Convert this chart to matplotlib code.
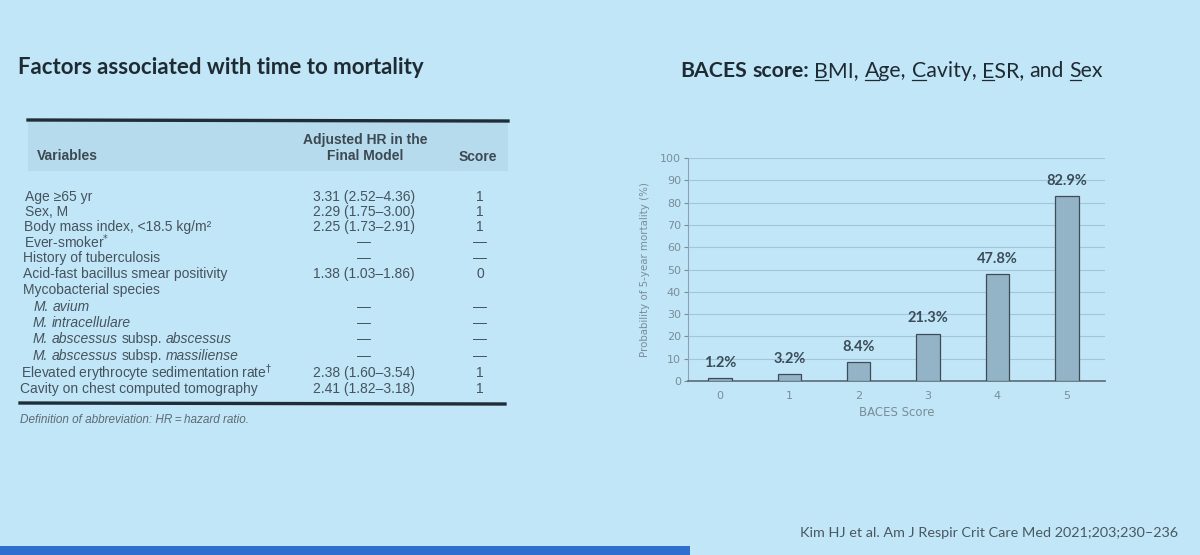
import matplotlib
matplotlib.use("Agg")
import matplotlib.pyplot as plt
from matplotlib.patches import Rectangle
from matplotlib.lines import Line2D

# ---- data ----
variables = [
    "Age \u226565 yr",
    "Sex, M",
    "Body mass index, <18.5 kg/m\u00b2",
    "Ever-smoker$^{*}$",
    "History of tuberculosis",
    "Acid-fast bacillus smear positivity",
    "Mycobacterial species",
    "M. avium",
    "M. intracellulare",
    "M. abscessus subsp. abscessus",
    "M. abscessus subsp. massiliense",
    "Elevated erythrocyte sedimentation rate$^{\\dagger}$",
    "Cavity on chest computed tomography",
]
hr_values = [
    "3.31 (2.52\u20134.36)", "2.29 (1.75\u20133.00)", "2.25 (1.73\u20132.91)",
    "\u2014", "\u2014", "1.38 (1.03\u20131.86)", "",
    "\u2014", "\u2014", "\u2014", "\u2014",
    "2.38 (1.60\u20133.54)", "2.41 (1.82\u20133.18)",
]
row_scores = ["1", "1", "1", "\u2014", "\u2014", "0", "",
              "\u2014", "\u2014", "\u2014", "\u2014", "1", "1"]

baces_score = [0, 1, 2, 3, 4, 5]
mortality = [1.2, 3.2, 8.4, 21.3, 47.8, 82.9]

BG = "#c1e6f8"
W, H = 1200, 555

fig = plt.figure(figsize=(12, 5.55), dpi=100)
fig.patch.set_facecolor(BG)
renderer = fig.canvas.get_renderer()


def fx(px):
    return px / W


def fy(py):
    return 1 - py / H


def width_of(s, **kw):
    t = fig.text(0, 0, s, **kw)
    w = t.get_window_extent(renderer=renderer).width
    t.remove()
    return w


def draw_runs(x, y, runs, color, **kw):
    # runs: (text, weight, style, underline first letter)
    space = width_of("x x", **kw) - width_of("xx", **kw)
    cur = x
    for i, (s, weight, style, ul) in enumerate(runs):
        if i > 0:
            cur += space
        t = fig.text(fx(cur), fy(y), s, color=color, weight=weight,
                     style=style, va="baseline", **kw)
        w = t.get_window_extent(renderer=renderer).width
        if ul:
            fw = width_of(s[0], weight=weight, style=style, **kw)
            fig.add_artist(Line2D([fx(cur), fx(cur + fw)], [fy(y + 3)] * 2,
                                  lw=0.9, color=color))
        cur += w


# ---- titles ----
TITLE = "#1f2b33"
fig.text(fx(18), fy(74), "Factors associated with time to mortality",
         fontsize=16, weight="bold", family="Lato", color=TITLE, va="baseline")

title_runs = [("BACES", "bold", "normal", False), ("score:", "bold", "normal", False),
              ("BMI,", "normal", "normal", True), ("Age,", "normal", "normal", True),
              ("Cavity,", "normal", "normal", True), ("ESR,", "normal", "normal", True),
              ("and", "normal", "normal", False), ("Sex", "normal", "normal", True)]
draw_runs(680, 77, title_runs, TITLE, fontsize=15.3, family="Lato")

# ---- table ----
TXT = "#46535c"
TF = "Liberation Sans"
FS = 10
fig.add_artist(Rectangle((fx(28), fy(171)), fx(508) - fx(28), fy(122) - fy(171),
                         color="#b6dbec", lw=0))
fig.add_artist(Line2D([fx(28), fx(508)], [fy(120), fy(121)], lw=2.4, color="#1e2d37"))
fig.add_artist(Line2D([fx(20), fx(505)], [fy(403), fy(404)], lw=2.4, color="#1e2d37"))

fig.text(fx(37), fy(156), "Variables", fontsize=FS, weight="bold", family=TF,
         color="#3c4952", va="center")
fig.text(fx(365), fy(148), "Adjusted HR in the\nFinal Model", fontsize=FS,
         weight="bold", family=TF, color="#3c4952", va="center", ha="center",
         linespacing=1.1)
fig.text(fx(478), fy(157), "Score", fontsize=FS, weight="bold", family=TF,
         color="#3c4952", va="center", ha="center")

row_y = [197, 212, 227, 242, 258, 274, 290, 307, 323, 339, 356, 373, 389]
for i, (var, hr, sc) in enumerate(zip(variables, hr_values, row_scores)):
    y = row_y[i]
    x0 = 25 - 5 * i / len(variables)
    if var.startswith("M. "):
        runs = [(w, "normal", "normal" if w == "subsp." else "italic", False)
                for w in var.split(" ")]
        draw_runs(x0 + 11, y + 4, runs, TXT, fontsize=FS, family=TF)
    else:
        fig.text(fx(x0), fy(y), var, fontsize=FS, family=TF, color=TXT, va="center")
    fig.text(fx(364), fy(y), hr, fontsize=FS, family=TF, color=TXT,
             va="center", ha="center")
    fig.text(fx(480), fy(y), sc, fontsize=FS, family=TF, color=TXT,
             va="center", ha="center")

fig.text(fx(20), fy(420), "Definition of abbreviation: HR\u2009=\u2009hazard ratio.",
         fontsize=8.5, family=TF, style="italic", color="#5d6b74", va="center")

# ---- bar chart ----
GREY = "#7a8d98"
ax = fig.add_axes([fx(688), fy(381), (1105 - 688) / W, (381 - 158) / H])
ax.set_facecolor("none")
ax.bar(baces_score, mortality, width=0.34, color="#93b3c7",
       edgecolor="#3e4c55", linewidth=0.9, zorder=3)
for xv, v in zip(baces_score, mortality):
    ax.annotate(f"{v}%", (xv, v), xytext=(0, 6), textcoords="offset points",
                ha="center", va="bottom", fontsize=10.5, weight="bold",
                family="Lato", color="#3b4c57")
ax.set_xlim(-0.46, 5.55)
ax.set_ylim(0, 100)
ax.set_yticks(range(0, 101, 10))
ax.set_xticks(baces_score)
ax.yaxis.grid(True, color="#a3c5d7", lw=0.8)
ax.set_axisbelow(True)
for s in ("top", "right"):
    ax.spines[s].set_visible(False)
ax.spines["left"].set_color("#8ba3b1")
ax.spines["bottom"].set_color("#5b6b75")
ax.spines["bottom"].set_linewidth(1.2)
ax.tick_params(axis="y", labelsize=8, colors=GREY, length=3, pad=2)
ax.tick_params(axis="x", labelsize=8, colors=GREY, length=0, pad=7)
ax.set_ylabel("Probability of 5-year mortality (%)", fontsize=7.4,
              color=GREY, labelpad=7)
ax.set_xlabel("BACES Score", fontsize=8.5, color=GREY, labelpad=4)

# ---- footer ----
fig.text(fx(800), fy(537), "Kim HJ et al. Am J Respir Crit Care Med 2021;203;230\u2013236",
         fontsize=10.4, family="Lato", color="#4a5860", va="baseline")
fig.add_artist(Rectangle((0, 0), fx(690), fy(546), color="#2f6fd0", lw=0))

fig.savefig("out.png", dpi=100, facecolor=BG)
